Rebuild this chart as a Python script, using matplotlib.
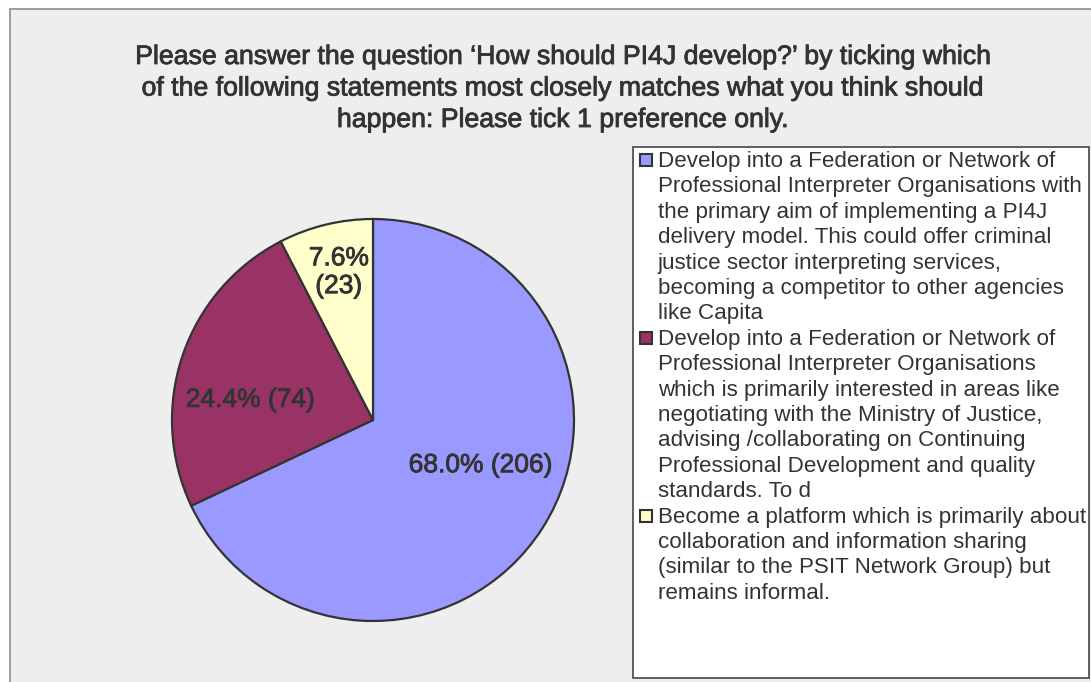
import matplotlib
matplotlib.use("Agg")
import matplotlib.pyplot as plt
import matplotlib.patheffects as pe
from matplotlib.patches import Rectangle

# --- data ---
categories = [
    "Develop into a Federation or Network of\n"
    "Professional Interpreter Organisations with\n"
    "the primary aim of implementing a PI4J\n"
    "delivery model. This could offer criminal\n"
    "justice sector interpreting services,\n"
    "becoming a competitor to other agencies\n"
    "like Capita",
    "Develop into a Federation or Network of\n"
    "Professional Interpreter Organisations\n"
    "which is primarily interested in areas like\n"
    "negotiating with the Ministry of Justice,\n"
    "advising /collaborating on Continuing\n"
    "Professional Development and quality\n"
    "standards. To d",
    "Become a platform which is primarily about\n"
    "collaboration and information sharing\n"
    "(similar to the PSIT Network Group) but\n"
    "remains informal.",
]
counts = [206, 74, 23]
colors = ["#9999ff", "#993366", "#ffffcc"]
title_lines = [
    "Please answer the question \u2018How should PI4J develop?\u2019 by ticking which",
    "of the following statements most closely matches what you think should",
    "happen: Please tick 1 preference only.",
]

W, H = 1091, 682
FONT = "Liberation Sans"
TXT = "#333333"
# medium weight: regular glyphs with a thin outline
MEDIUM = [pe.withStroke(linewidth=0.6, foreground=TXT)]

fig = plt.figure(figsize=(W / 100, H / 100), dpi=100)
fig.patch.set_facecolor("white")


def fx(px):
    return px / W


def fy(py):
    return 1 - py / H


# chart area background
fig.patches.append(Rectangle((fx(10), fy(700)), fx(1100), 691 / H,
                             transform=fig.transFigure, facecolor="#eeeeee",
                             edgecolor="#8c8c8c", linewidth=1.2, zorder=-2))

# title
for i, line in enumerate(title_lines):
    fig.text(fx(562), fy(57 + i * 31.5), line, ha="center", va="center",
             fontsize=19.2, family=FONT, color=TXT, path_effects=MEDIUM)

# pie
cx, cy, r = 373, 420, 201
ax = fig.add_axes([fx(cx - r), fy(cy + r), 2 * r / W, 2 * r / H])
ax.set_facecolor("none")
total = sum(counts)
wedges, _ = ax.pie(counts, colors=colors, startangle=90, counterclock=False,
                   wedgeprops=dict(edgecolor="#333333", linewidth=1.6))
ax.set_xlim(-1, 1)
ax.set_ylim(-1, 1)
ax.set_aspect("auto")
ax.axis("off")

label_pos = [(0.535, -0.225), (-0.61, 0.10), (-0.17, 0.735)]
label_fmt = ["{p:.1f}% ({n})", "{p:.1f}% ({n})", "{p:.1f}%\n({n})"]
for n, fmt, (lx, ly) in zip(counts, label_fmt, label_pos):
    ax.text(lx, ly, fmt.format(p=100 * n / total, n=n), ha="center",
            va="center", fontsize=19, family=FONT, color=TXT,
            linespacing=1.2, path_effects=MEDIUM)

# legend box
fig.patches.append(Rectangle((fx(633), fy(678)), fx(1089 - 633), 531 / H,
                             transform=fig.transFigure, facecolor="white",
                             edgecolor="#444444", linewidth=1.2, zorder=1))
pitch = 25.4
row = 0
for label, col in zip(categories, colors):
    lines = label.split("\n")
    y0 = 160 + row * pitch
    fig.patches.append(Rectangle((fx(640), fy(y0 + 6)), fx(12), 12 / H,
                                 transform=fig.transFigure, facecolor=col,
                                 edgecolor="#333333", linewidth=1.5, zorder=2))
    for ln in lines:
        fig.text(fx(658), fy(161.5 + row * pitch), ln, ha="left", va="center",
                 fontsize=16.1, family=FONT, color=TXT, zorder=3)
        row += 1

fig.savefig("out.png", dpi=100)
